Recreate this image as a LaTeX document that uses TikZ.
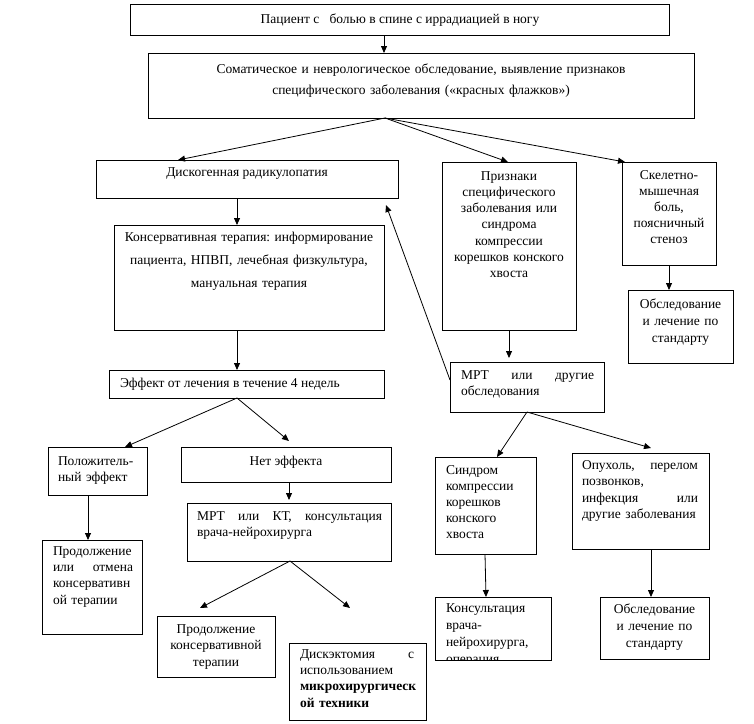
\documentclass[tikz,border=0pt]{standalone}
\usepackage{fontspec}
\setmainfont{Liberation Serif}
\frenchspacing
\usetikzlibrary{arrows.meta}
\tikzset{
  box/.style={draw, line width=0.9pt, inner sep=0pt, outer sep=0pt, anchor=north west},
  arr/.style={draw, line width=0.8pt, -{Triangle[length=7pt,width=6pt]}},
  txt/.style={inner sep=0pt, outer sep=0pt, font=\fontsize{13.5pt}{#1}\selectfont},
}
\newcommand\bx[5]{\node[box, minimum width={#4-#2}, minimum height={#5-#3}] (#1) at (#2,#3) {};}
\newcommand\js[2]{\leavevmode\hbox to #1pt{#2}}
\begin{document}
\begin{tikzpicture}[x=1pt,y=-1pt]
\useasboundingbox (0,0) rectangle (754,723);
% boxes
\bx{top}{130}{4}{669}{35}
\bx{exam}{148}{53}{694}{118}
\bx{disk}{96}{160}{398}{198}
\bx{priz}{442}{162}{576}{330}
\bx{skel}{622}{162}{716}{265}
\bx{obsA}{628}{290}{733}{363}
\bx{kons}{114}{225}{384}{330}
\bx{eff}{109}{370}{384}{398}
\bx{pol}{48}{447}{147}{495}
\bx{net}{181}{447}{391}{482}
\bx{mrt}{187}{503}{391}{561}
\bx{prod}{42}{540}{142}{634}
\bx{prodk}{157}{616}{275}{677}
\bx{disc}{289}{643}{426}{720}
\bx{mri}{450}{362}{604}{412}
\bx{sind}{435}{457}{536}{554}
\bx{opu}{572}{453}{709}{549}
\bx{obsB}{600}{597}{709}{659}
\bx{cons}{435}{597}{551}{660}
% texts
\node[txt=16.5pt, anchor=north] (ttop) at (400,13.5) {Пациент с\ \ \ болью в спине с иррадиацией в ногу};
\node[txt=21pt, text width=520pt, align=center, anchor=north] (texam) at (421,63.5) {Соматическое и неврологическое обследование, выявление признаков\\специфического заболевания («красных флажков»)};
\node[txt=16.5pt, anchor=north] (tdisk) at (247,168) {Дискогенная радикулопатия};
\node[txt=16.2pt, text width=130pt, align=center, anchor=north] (tpriz) at (509,171.5) {Признаки\\специфического\\заболевания или\\синдрома\\компрессии\\корешков конского\\хвоста};
\node[txt=16pt, text width=92pt, align=center, anchor=north] (tskel) at (669,170.5) {Скелетно-\\мышечная\\боль,\\поясничный\\стеноз};
\node[txt=17pt, text width=104pt, align=center, anchor=north] (tobsA) at (680.5,298.5) {Обследование\\и лечение по\\стандарту};
\node[txt=23pt, text width=266pt, align=center, anchor=north] (tkons) at (249,232.5) {Консервативная терапия: информирование\\пациента, НПВП, лечебная физкультура,\\мануальная терапия};
\node[txt=16.5pt, anchor=north west] (teff) at (120,378.5) {Эффект от лечения в течение 4 недель};
\node[txt=16pt, text width=88pt, align=left, anchor=north west] (tpol) at (58,456.5) {Положитель-\\ный эффект};
\node[txt=16.5pt, anchor=north] (tnet) at (286,456) {Нет эффекта};
\node[txt=16pt, text width=185pt, align=left, anchor=north west] (tmrt) at (197,511.5) {\js{185}{МРТ\hfill или\hfill КТ,\hfill консультация}\\врача-нейрохирурга};
\node[txt=16.3pt, text width=86pt, align=left, anchor=north west] (tprod) at (53,546.5) {Продолжение\\\js{80}{или\hfill отмена}\\консервативн\\ой терапии};
\node[txt=16.5pt, text width=116pt, align=center, anchor=north] (tprodk) at (216,624.5) {Продолжение\\консервативной\\терапии};
\node[txt=16.3pt, text width=120pt, align=left, anchor=north west] (tdisc) at (300,649.5) {\js{114}{Дискэктомия\hfill с}\\использованием\\\textbf{микрохирургическ}\\\textbf{ой техники}};
\node[txt=16pt, text width=140pt, align=left, anchor=north west] (tmri) at (461,370.5) {\js{133}{МРТ\hfill или\hfill другие}\\обследования};
\node[txt=16pt, text width=90pt, align=left, anchor=north west] (tsind) at (446,465.5) {Синдром\\компрессии\\корешков\\конского\\хвоста};
\node[txt=16.3pt, text width=124pt, align=left, anchor=north west] (topu) at (582,460.5) {\js{116}{Опухоль,\hfill перелом}\\позвонков,\\\js{116}{инфекция\hfill или}\\другие заболевания};
\node[txt=17pt, text width=108pt, align=center, anchor=north] (tobsB) at (654.5,603.5) {Обследование\\и лечение по\\стандарту};
\begin{scope}
\clip (cons.north west) rectangle (cons.south east);
\node[txt=17pt, text width=110pt, align=left, anchor=north west] (tcons) at (446,603.5) {Консультация\\врача-\\нейрохирурга,\\операция};
\end{scope}
\draw[line width=0.9pt] (cons.north west) rectangle (cons.south east);
% free ends
\coordinate (kL) at (200,608);
\coordinate (kR) at (350,608);
\coordinate (dtip) at (386,205);
% connectors
\draw[arr] ([xshift=-15.5pt]top.south) -- ([xshift=-37pt]exam.north);
\draw[arr] ([xshift=-36pt]exam.south) -- ([xshift=-69pt]disk.north);
\draw[arr] ([xshift=-36pt]exam.south) -- ([xshift=-1pt]priz.north);
\draw[arr] ([xshift=-36pt]exam.south) -- ([xshift=3pt]skel.north west);
\draw[arr] ([xshift=-10pt]disk.south) -- ([xshift=-12pt]kons.north);
\draw[arr] ([xshift=-12pt]kons.south) -- ([xshift=-9.5pt]eff.north);
\draw[arr] ([xshift=-9.5pt]eff.south) -- ([xshift=27.5pt]pol.north);
\draw[arr] ([xshift=-9.5pt]eff.south) -- ([xshift=3pt,yshift=6pt]net.north);
\draw[arr] ([xshift=3pt]net.south) -- ([yshift=3pt]mrt.north);
\draw[arr] ([xshift=-9.5pt]pol.south) -- ([xshift=-4pt]prod.north);
\draw[arr] ([xshift=1pt]mrt.south) -- (kL);
\draw[arr] ([xshift=1pt]mrt.south) -- (kR);
\draw[arr] ([xshift=0pt]priz.south) -- ([xshift=-18pt,yshift=4pt]mri.north);
\draw[arr] ([yshift=-18pt]mri.north west) -- (dtip);
\draw[arr] (mri.south) -- ([xshift=11.5pt]sind.north);
\draw[arr] (mri.south) -- ([xshift=10.5pt,yshift=5pt]opu.north);
\draw[arr] ([xshift=-0.5pt]sind.south) -- ([xshift=-7pt]cons.north);
\draw[arr] ([xshift=10.5pt]opu.south) -- ([xshift=-3.5pt]obsB.north);
\draw[arr] (skel.south) -- ([xshift=-11.5pt]obsA.north);
\end{tikzpicture}
\end{document}
